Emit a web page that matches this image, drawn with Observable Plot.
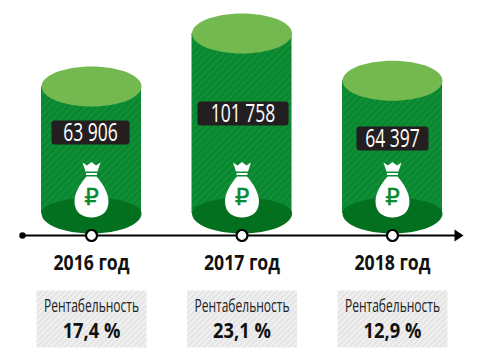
<!DOCTYPE html>
<html><head><meta charset="utf-8">
<script src="https://cdn.jsdelivr.net/npm/d3@7"></script>
<script src="https://cdn.jsdelivr.net/npm/@observablehq/plot@0.6"></script>
<style>html,body{margin:0;padding:0;background:#fff}svg{display:block}</style>
</head><body><div id="chart"></div>
<script>
const years = ["2016 год", "2017 год", "2018 год"];
const revenue = [63906, 101758, 64397];
const revenueLabels = ["63 906", "101 758", "64 397"];
const margins = ["17,4 %", "23,1 %", "12,9 %"];
const marginTitle = "Рентабельность";

const rows = years.map((year, i) => ({year, value: revenue[i], label: revenueLabels[i], margin: margins[i]}));

// layout (pixels from the top of the frame)
const base = -26786;          // the y-scale value of the cylinders' floor
const topNudge = [0, 0, -5];
const labelY = [132, 113, 138];
const labelW = [78, 91, 72];
const labelDx = [-1, 1, 0];
const FONT = "'Open Sans',sans-serif";

const ellipse = (rx, ryTop, ryBottom = ryTop) => ({draw(c) {
  const k = 0.5523;
  c.moveTo(-rx, 0);
  c.bezierCurveTo(-rx, -ryTop * k, -rx * k, -ryTop, 0, -ryTop);
  c.bezierCurveTo(rx * k, -ryTop, rx, -ryTop * k, rx, 0);
  c.bezierCurveTo(rx, ryBottom * k, rx * k, ryBottom, 0, ryBottom);
  c.bezierCurveTo(-rx * k, ryBottom, -rx, ryBottom * k, -rx, 0);
  c.closePath();
}});
const roundRect = (w, h, r) => ({draw(c) {
  const x = w / 2, y = h / 2;
  c.moveTo(-x + r, -y);
  c.lineTo(x - r, -y); c.quadraticCurveTo(x, -y, x, -y + r);
  c.lineTo(x, y - r); c.quadraticCurveTo(x, y, x - r, y);
  c.lineTo(-x + r, y); c.quadraticCurveTo(-x, y, -x, y - r);
  c.lineTo(-x, -y + r); c.quadraticCurveTo(-x, -y, -x + r, -y);
  c.closePath();
}});
const bag = {draw(c) {
  c.moveTo(-9, -28); c.lineTo(-4.5, -25); c.lineTo(0, -28.5); c.lineTo(4.5, -25); c.lineTo(9, -28);
  c.lineTo(6, -19); c.lineTo(-6, -19); c.closePath();
  c.moveTo(-5.5, -17.5); c.lineTo(5.5, -17.5); c.lineTo(5.5, -15.5); c.lineTo(-5.5, -15.5); c.closePath();
  c.moveTo(-5, -14); c.lineTo(5, -14);
  c.bezierCurveTo(12, -6, 17, 3, 17, 11);
  c.bezierCurveTo(17, 22, 9, 27, 0, 27);
  c.bezierCurveTo(-9, 27, -17, 22, -17, 11);
  c.bezierCurveTo(-17, 3, -12, -6, -5, -14);
  c.closePath();
}};

const txt = {frameAnchor: "top", lineAnchor: "middle", fontFamily: FONT};

const plot = Plot.plot({
  width: 479, height: 364, margin: 0,
  x: {type: "band", domain: years, range: [15.75, 467.25], paddingInner: 0.3355, paddingOuter: 0.1678, round: false, axis: null},
  y: {domain: [0, 125357], range: [175.5, 0], axis: null},
  marks: [
    ...rows.map((d, i) => Plot.barY([d], {x: "year", y1: () => base, y2: "value", fill: "url(#stripes)", insetTop: topNudge[i]})),
    Plot.dot(rows, {x: "year", y: () => base, r: 1, symbol: ellipse(50, 16, 20), fill: "#02701f", stroke: "none"}),
    ...rows.map((d, i) => Plot.dot([d], {x: "year", y: "value", dy: topNudge[i], r: 1, symbol: ellipse(50, 20), fill: "#74b94f", stroke: "none"})),
    ...rows.map((d, i) => Plot.dot([d], {x: "year", frameAnchor: "top", dx: labelDx[i], dy: labelY[i], r: 1, symbol: roundRect(labelW[i], 24, 3), fill: "#231f20", stroke: "none"})),
    ...rows.map((d, i) => Plot.text([d], {...txt, x: "year", dx: labelDx[i], dy: labelY[i], text: "label", fill: "#fff", fontSize: 25, className: "narrow-val"})),
    Plot.dot(rows, {x: "year", frameAnchor: "top", dy: 190, r: 1, symbol: bag, fill: "#fff", stroke: "none"}),
    Plot.text(rows, {x: "year", frameAnchor: "top", lineAnchor: "middle", dy: 197, text: () => "₽", fill: "#0a8a32", stroke: "#0a8a32", strokeWidth: 0.4, fontSize: 23, fontFamily: "'DejaVu Sans',sans-serif"}),
    Plot.ruleY([0], {y: () => 0, dy: 235 - 175.5, insetLeft: 22, insetRight: 24, stroke: "#000", strokeWidth: 2.2}),
    Plot.dot([0], {frameAnchor: "top-left", dx: 22, dy: 235, r: 3.2, fill: "#000", stroke: "none"}),
    Plot.dot([0], {frameAnchor: "top-right", dx: -22, dy: 235, r: 1, symbol: {draw(c) { c.moveTo(-3, -6); c.lineTo(6, 0); c.lineTo(-3, 6); c.closePath(); }}, fill: "#000", stroke: "none"}),
    Plot.dot(rows, {x: "year", frameAnchor: "top", dy: 235, r: 5.5, fill: "#fff", stroke: "#000", strokeWidth: 2.2}),
    Plot.text(rows, {...txt, x: "year", dy: 262.5, text: "year", fill: "#111", fontSize: 21, fontWeight: 700, className: "narrow-year"}),
    Plot.dot(rows, {x: "year", frameAnchor: "top", dy: 318.5, r: 1, symbol: roundRect(110, 57, 0), fill: "url(#hatch)", stroke: "none"}),
    Plot.text(rows, {...txt, x: "year", dy: 306, text: () => marginTitle, fill: "#222", fontSize: 18.5, className: "narrow-title"}),
    Plot.text(rows, {...txt, x: "year", dy: 331, text: "margin", fill: "#111", fontSize: 21, fontWeight: 700, className: "narrow-pct"})
  ]
});

const defs = d3.select(plot).insert("defs", ":first-child");
const pattern = (id, bg, fg, size, w) => {
  const p = defs.append("pattern").attr("id", id).attr("patternUnits", "userSpaceOnUse")
    .attr("width", size).attr("height", size).attr("patternTransform", "rotate(45)");
  p.append("rect").attr("width", size).attr("height", size).attr("fill", bg);
  p.append("rect").attr("width", w).attr("height", size).attr("fill", fg);
};
pattern("stripes", "#078630", "#128f36", 5, 2.5);
pattern("hatch", "#f0f0f0", "#e4e4e4", 4, 2);

document.getElementById("chart").append(plot);

// the reference's face is a condensed cut, which is not installed: squeeze each text to the same width
const condense = (cls, ratio) => d3.select(plot).selectAll(`.${cls} text`).each(function() {
  this.setAttribute("lengthAdjust", "spacingAndGlyphs");
  this.setAttribute("textLength", this.getComputedTextLength() * ratio);
});
condense("narrow-val", 0.70);
condense("narrow-year", 0.84);
condense("narrow-title", 0.65);
condense("narrow-pct", 0.87);
</script></body></html>
